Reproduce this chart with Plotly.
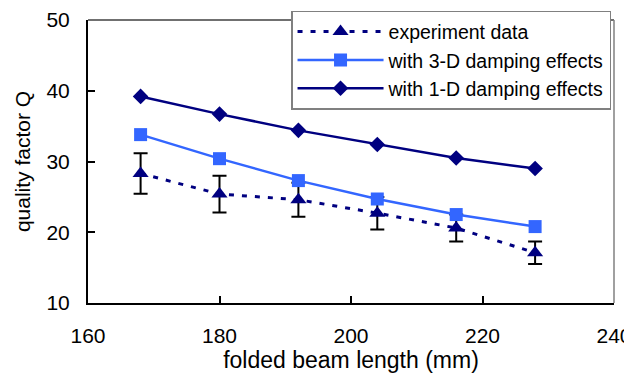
import plotly.graph_objects as go

# Data
beam_length = [168, 180, 192, 204, 216, 228]
q_experiment = [28.3, 25.4, 24.6, 22.7, 20.6, 17.1]
q_experiment_err = [2.85, 2.6, 2.4, 2.3, 1.9, 1.6]
q_3d = [33.8, 30.4, 27.3, 24.7, 22.5, 20.8]
q_1d = [39.2, 36.7, 34.4, 32.4, 30.5, 29.0]

NAVY = "#000080"
BLUE = "#3366FF"
FONT = "Liberation Sans, Arial, sans-serif"

fig = go.Figure()
fig.add_trace(go.Scatter(
    x=beam_length, y=q_experiment, name="experiment data", mode="lines+markers",
    line=dict(color=NAVY, width=3, dash="5px,8px"),
    marker=dict(symbol="triangle-up", size=14, color=NAVY),
    error_y=dict(type="data", array=q_experiment_err, color="black", thickness=2, width=7),
))
fig.add_trace(go.Scatter(
    x=beam_length, y=q_3d, name="with 3-D damping effects", mode="lines+markers",
    line=dict(color=BLUE, width=2.5),
    marker=dict(symbol="square", size=13, color=BLUE),
))
fig.add_trace(go.Scatter(
    x=beam_length, y=q_1d, name="with 1-D damping effects", mode="lines+markers",
    line=dict(color=NAVY, width=2.5),
    marker=dict(symbol="diamond", size=12, color=NAVY),
))

# plot-area frame (top dark gray, right gray)
fig.add_shape(type="line", xref="paper", yref="paper", x0=0, x1=1, y0=1, y1=1,
              line=dict(color="#404040", width=1.5), layer="above")
fig.add_shape(type="line", xref="paper", yref="paper", x0=1, x1=1, y0=0, y1=1,
              line=dict(color="#808080", width=1.5), layer="above")

# the page body adds an 8px margin, so the figure is sized to fit the window
fig.update_layout(
    width=624, height=365,
    margin=dict(l=80, r=18, t=12, b=70, autoexpand=False),
    paper_bgcolor="white", plot_bgcolor="white",
    font=dict(family=FONT, color="black"),
    showlegend=True,
    legend=dict(
        x=0.386, y=1.032, xanchor="left", yanchor="top",
        bgcolor="white", bordercolor="#808080", borderwidth=1.5,
        font=dict(size=19.5, family=FONT), itemwidth=86,
        tracegroupgap=0,
    ),
    xaxis=dict(
        range=[160, 240], dtick=20, tick0=160, automargin=False,
        showgrid=False, zeroline=False,
        showline=True, linecolor="black", linewidth=2,
        ticks="inside", ticklen=7, tickwidth=1.5, tickcolor="black",
        tickfont=dict(size=21), ticklabelstandoff=13,
        title=dict(text="folded beam length (mm)", font=dict(size=23), standoff=9),
    ),
    yaxis=dict(
        range=[10, 50], dtick=10, tick0=10, automargin=False,
        showgrid=False, zeroline=False,
        showline=True, linecolor="black", linewidth=2,
        ticks="inside", ticklen=7, tickwidth=1.5, tickcolor="black",
        tickfont=dict(size=21), ticklabelstandoff=12,
        title=dict(text="quality factor Q", font=dict(size=21), standoff=10),
    ),
)

fig.write_html("out.html")
